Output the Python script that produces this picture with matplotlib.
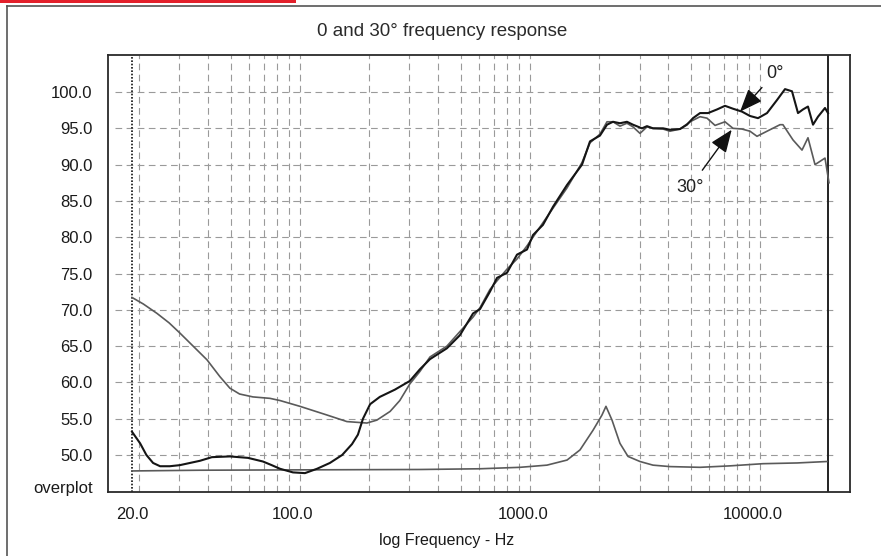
import matplotlib
matplotlib.use('Agg')
import matplotlib.pyplot as plt
from matplotlib.lines import Line2D
from matplotlib.patches import Rectangle

plt.rcParams['font.family'] = ['Liberation Sans', 'DejaVu Sans']

# 0 degree response (black)
freq_0 = [20, 21.7, 23.1, 24.7, 26.5, 29.2, 32.3, 39.5, 44.5, 53.3, 63.9, 74.2, 81, 88, 100.2,
          113, 127.5, 145, 164, 181, 192, 202, 217, 239, 278, 323, 357, 395, 468, 533, 608,
          652, 720, 773, 854, 944, 1043, 1108, 1224, 1354, 1558, 1810, 1960, 2166, 2324,
          2468, 2646, 2838, 3014, 3298, 3468, 3682, 4072, 4366, 4826, 5176, 5496, 5898,
          6390, 6992, 7574, 8204, 8976, 9726, 10538, 11534, 12748, 13810, 14812, 15728,
          16532, 17380, 18280, 19214, 20610, 21240]
db_0 = [53.2, 51.6, 50.0, 48.9, 48.45, 48.45, 48.6, 49.2, 49.7, 49.8, 49.6, 49.1, 48.6, 48.1,
        47.6, 47.5, 48.1, 48.9, 50.0, 51.5, 52.8, 55.0, 57.0, 58.0, 59.0, 60.2, 61.8, 63.2,
        64.7, 66.5, 69.5, 70.1, 72.5, 74.4, 75.1, 77.6, 78.3, 80.3, 81.7, 84.2, 87.2, 90.0,
        93.2, 94.0, 95.5, 95.9, 95.7, 95.9, 95.5, 95.0, 95.3, 95.0, 95.0, 94.8, 94.9, 95.5,
        96.4, 97.1, 97.1, 97.6, 98.1, 97.7, 97.3, 96.7, 96.4, 97.1, 98.9, 100.4, 100.1,
        97.1, 97.6, 98.0, 95.5, 96.6, 97.8, 97.1]

# 30 degree response (grey)
freq_30 = [20, 22.4, 25.7, 29, 32.3, 42.4, 48.2, 53.3, 58.7, 67.1, 79.6, 88, 107.5, 141, 172,
           210, 232, 265, 292, 323, 357, 395, 468, 533, 608, 652, 720, 773, 854, 944, 1043,
           1108, 1224, 1354, 1558, 1810, 1960, 2166, 2324, 2468, 2646, 2838, 3014, 3234,
           3468, 3682, 4072, 4366, 4826, 5335, 5898, 6325, 6854, 7574, 8204, 8976, 9726,
           10432, 11534, 13136, 13527, 14960, 16372, 17380, 18648, 20610, 21450]
db_30 = [71.7, 70.8, 69.5, 68.2, 66.8, 63.1, 60.8, 59.2, 58.4, 58.0, 57.8, 57.5, 56.7, 55.5,
         54.6, 54.4, 54.8, 56.0, 57.5, 59.8, 61.5, 63.5, 65.0, 67.0, 69.0, 70.3, 72.8, 74.0,
         75.6, 77.0, 78.8, 80.0, 82.0, 84.0, 86.8, 90.3, 93.0, 94.2, 95.9, 95.9, 95.3, 95.7,
         95.2, 94.3, 95.2, 95.0, 94.9, 94.6, 94.9, 95.9, 96.6, 96.4, 95.4, 95.9, 95.0, 94.9,
         94.6, 93.9, 94.6, 95.5, 95.5, 93.4, 92.0, 93.7, 90.0, 90.9, 87.5]

# overplot trace (grey, flat with peak)
freq_ov = [20, 39.5, 107.5, 357, 652, 972, 1274, 1558, 1774, 2020, 2210, 2300, 2444, 2646,
           2868, 3234, 3682, 4366, 5898, 7962, 11080, 15572, 21020]
db_ov = [47.8, 47.9, 47.95, 48.0, 48.1, 48.3, 48.6, 49.3, 50.7, 53.4, 55.5, 56.7, 54.8, 51.6,
         49.8, 49.1, 48.6, 48.4, 48.3, 48.5, 48.8, 48.9, 49.1]

x_ticks = [20, 100, 1000, 10000]
x_labels = ['20.0', '100.0', '1000.0', '10000.0']
y_ticks = [50, 55, 60, 65, 70, 75, 80, 85, 90, 95, 100]
grid_freqs = [20, 30, 40, 50, 60, 70, 80, 90, 100, 200, 300, 400, 500, 600, 700, 800, 900,
              1000, 2000, 3000, 4000, 5000, 6000, 7000, 8000, 9000, 10000]

fig = plt.figure(figsize=(8.81, 5.56), dpi=100)
ax = fig.add_axes([108 / 881, 64 / 556, 742 / 881, 437 / 556])

# grid is drawn slightly shifted from the labels, like in the original
shift = 10 ** (7 / 230)
for f in grid_freqs:
    ax.axvline(f * shift, color='#9a9a9a', lw=0.8, dashes=(6, 4), zorder=1)
ax.hlines(y_ticks, 16.9, 22330, color='#9a9a9a', lw=0.8, linestyles=(0, (6, 4)), zorder=1)

ax.axvline(freq_0[0], color='#111111', lw=1.2, linestyle=(0, (1, 1)), zorder=2)
ax.axvline(freq_0[-1], color='#222222', lw=1.4, zorder=2)

ax.plot(freq_ov, db_ov, color='#5a5a5a', lw=1.2, zorder=3)
ax.plot(freq_30, db_30, color='#5a5a5a', lw=1.2, zorder=3)
ax.plot(freq_0, db_0, color='#151515', lw=1.5, zorder=4)

arrow = dict(arrowstyle='-|>,head_length=0.7,head_width=0.28', color='#111111', lw=1.0,
             mutation_scale=20, shrinkB=0)
ax.annotate('0°', xy=(8804, 97.3), xytext=(12496, 102.6), fontsize=13, color='#222222',
            ha='center', va='center', arrowprops=dict(arrow, shrinkA=3))
ax.annotate('30°', xy=(8098, 94.8), xytext=(5336, 86.9), fontsize=13, color='#222222',
            ha='center', va='center', arrowprops=dict(arrow, shrinkA=5))

ax.set_xscale('log')
ax.set_xlim(15.73, 26470)
ax.set_ylim(44.9, 105.1)
ax.set_xticks(x_ticks)
ax.set_xticklabels(x_labels)
ax.xaxis.set_minor_locator(matplotlib.ticker.NullLocator())
ax.set_yticks(y_ticks + [45.6])
ax.set_yticklabels([f'{v:.1f}' for v in y_ticks] + ['overplot'])
ax.tick_params(axis='both', length=0, labelsize=12, colors='#1a1a1a')
ax.tick_params(axis='y', pad=11)
ax.tick_params(axis='x', pad=11)
for s in ax.spines.values():
    s.set_color('#2a2a2a')
    s.set_linewidth(1.3)

ax.set_xlabel('log Frequency - Hz', fontsize=11.5, color='#1a1a1a')
ax.xaxis.set_label_coords((447 - 108) / 742, -(541 - 492) / 437, transform=ax.transAxes)
ax.xaxis.label.set_va('center')
fig.text(442 / 881, 1 - 32 / 556, '0 and 30° frequency response', fontsize=13.5,
         color='#2a2a2a', ha='center', va='center')

# outer frame and red strip on top
fig.add_artist(Line2D([7 / 881, 7 / 881], [0, 1 - 5.5 / 556], color='#555555', lw=1.2))
fig.add_artist(Line2D([7 / 881, 1], [1 - 5.5 / 556, 1 - 5.5 / 556], color='#555555', lw=1.2))
fig.add_artist(Rectangle((0, 1 - 3 / 556), 296 / 881, 3 / 556, transform=fig.transFigure,
                         facecolor='#e3202b', edgecolor='none'))

fig.savefig('out.png', dpi=100)
